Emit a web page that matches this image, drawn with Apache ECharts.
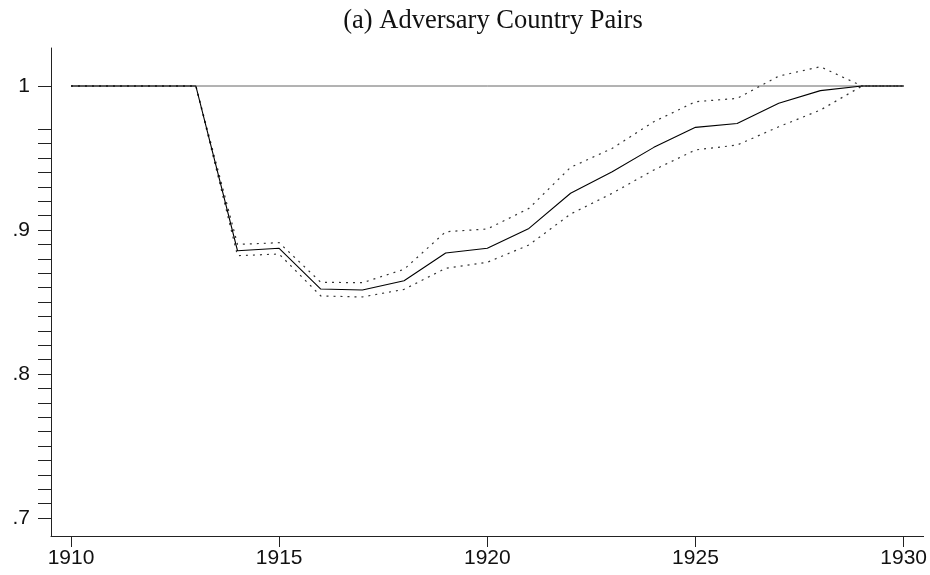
<!DOCTYPE html>
<html>
<head>
<meta charset="utf-8">
<script src="https://cdn.jsdelivr.net/npm/echarts@6/dist/echarts.min.js"></script>
<style>
  html, body { margin: 0; padding: 0; background: #fff; }
  #chart { width: 930px; height: 575px; }
</style>
</head>
<body>
<div id="chart"></div>
<script>
var years = [1910,1911,1912,1913,1914,1915,1916,1917,1918,1919,1920,1921,1922,1923,1924,1925,1926,1927,1928,1929,1930];
var estimate = [1,1,1,1,0.8856,0.8873,0.8590,0.8583,0.8648,0.8840,0.8873,0.9011,0.9255,0.9405,0.9574,0.9713,0.9740,0.9880,0.9968,1,1];
var upper    = [1,1,1,1,0.8900,0.8912,0.8637,0.8634,0.8727,0.8988,0.9007,0.9150,0.9435,0.9567,0.9752,0.9891,0.9914,1.0069,1.0134,1,1];
var lower    = [1,1,1,1,0.8822,0.8833,0.8542,0.8535,0.8588,0.8734,0.8776,0.8896,0.9111,0.9255,0.9417,0.9556,0.9590,0.9717,0.9833,1,1];
var baseline = 1;
var xLabels = [1910,1915,1920,1925,1930];
var yLabels = [0.7,0.8,0.9,1];
// minor ticks every .01 from .70 to .97, then the tick at 1
var yTicks = [];
for (var t = 70; t <= 97; t++) yTicks.push(t / 100);
yTicks.push(1);

function pairs(vals){ return years.map(function(y,i){ return [y, vals[i]]; }); }

var chart = echarts.init(document.getElementById('chart'));
var ink = '#222';
chart.setOption({
  animation: false,
  title: {
    text: '(a) Adversary Country Pairs',
    left: 488, top: 3, textAlign: 'center',
    textStyle: { fontFamily: 'Liberation Serif', fontWeight: 'normal', fontSize: 26.5, color: '#111' }
  },
  grid: { left: 51, right: 5, top: 48, bottom: 39, containLabel: false },
  xAxis: {
    type: 'value', min: 1909.52, max: 1930.48,
    axisLine: { lineStyle: { color: ink, width: 1 } },
    axisTick: { customValues: xLabels, length: 11, lineStyle: { color: ink } },
    axisLabel: { customValues: xLabels, color: '#111', fontFamily: 'Liberation Sans', fontSize: 21, margin: 12,
      formatter: function(v){ return String(Math.round(v)); } },
    splitLine: { show: false }
  },
  yAxis: {
    type: 'value', min: 0.6875, max: 1.0264,
    axisLine: { show: true, lineStyle: { color: ink, width: 1 } },
    axisTick: { show: true, customValues: yTicks, length: 13, lineStyle: { color: ink } },
    axisLabel: {
      customValues: yLabels, color: '#111', fontFamily: 'Liberation Sans', fontSize: 21, margin: 21,
      formatter: function(v){ return v >= 1 ? '1' : String(Math.round(v * 10) / 10).replace(/^0/, ''); }
    },
    splitLine: { show: false }
  },
  series: [
    { type: 'line', data: [[1910, baseline],[1930, baseline]], symbol: 'none',
      lineStyle: { color: '#666', width: 1 }, z: 1 },
    { type: 'line', data: pairs(upper), symbol: 'none',
      lineStyle: { color: '#333', width: 1.2, type: [2, 5] }, z: 2 },
    { type: 'line', data: pairs(lower), symbol: 'none',
      lineStyle: { color: '#333', width: 1.2, type: [2, 5] }, z: 2 },
    { type: 'line', data: pairs(estimate), symbol: 'none',
      lineStyle: { color: '#000', width: 1.1 }, z: 3 }
  ]
});
</script>
</body>
</html>
